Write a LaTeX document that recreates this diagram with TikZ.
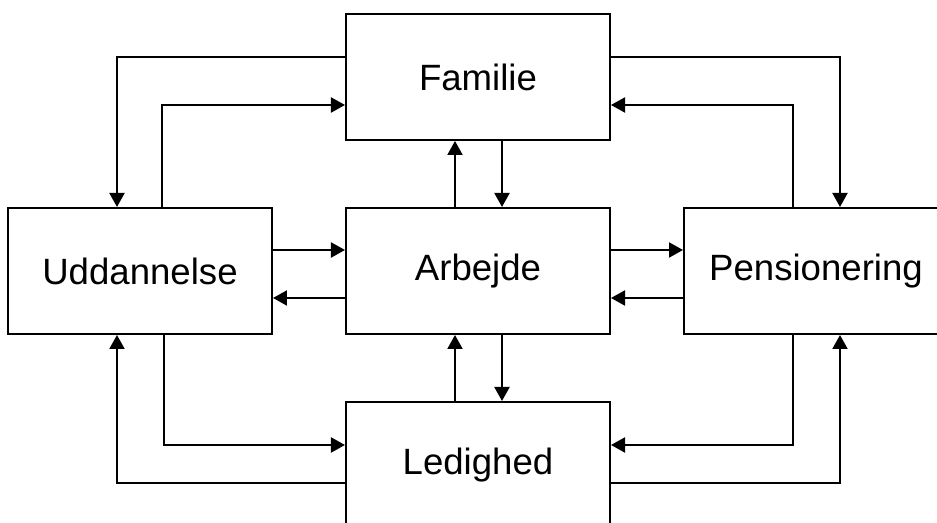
\documentclass[tikz,border=0pt]{standalone}
\usepackage{fontspec}
\setmainfont{Liberation Sans}
\usetikzlibrary{arrows.meta, positioning}

\begin{document}
\begin{tikzpicture}[
    node distance=33pt and 36pt,
    >={Triangle[length=7pt, width=7.5pt]},
    box/.style={draw, line width=1pt, minimum width=132pt, minimum height=63pt,
                font=\fontsize{18.3}{22}\selectfont, align=center},
    arr/.style={->, line width=1pt},
]
\useasboundingbox (-239pt,-126pt) rectangle (229.5pt,135.5pt);

% States
\node[box] (arb) {Arbejde};
\node[box, above=of arb] (fam) {Familie};
\node[box, below=of arb] (led) {Ledighed};
\node[box, left=of arb] (udd) {Uddannelse};
\node[box, right=of arb] (pen) {Pensionering};

% Familie <-> Arbejde, Ledighed <-> Arbejde
\draw[arr] ([xshift=-11.5pt]arb.north) -- ([xshift=-11.5pt]fam.south);
\draw[arr] ([xshift=12pt]fam.south) -- ([xshift=12pt]arb.north);
\draw[arr] ([xshift=-11.5pt]led.north) -- ([xshift=-11.5pt]arb.south);
\draw[arr] ([xshift=12pt]arb.south) -- ([xshift=12pt]led.north);

% Uddannelse <-> Arbejde <-> Pensionering
\draw[arr] ([yshift=10.5pt]udd.east) -- ([yshift=10.5pt]arb.west);
\draw[arr] ([yshift=-13.5pt]arb.west) -- ([yshift=-13.5pt]udd.east);
\draw[arr] ([yshift=10.5pt]arb.east) -- ([yshift=10.5pt]pen.west);
\draw[arr] ([yshift=-13.5pt]pen.west) -- ([yshift=-13.5pt]arb.east);

% Familie loops
\draw[arr] ([yshift=10pt]fam.west) -| ([xshift=-11.5pt]udd.north);
\draw[arr] ([xshift=11pt]udd.north) |- ([yshift=-14pt]fam.west);
\draw[arr] ([yshift=10pt]fam.east) -| ([xshift=12pt]pen.north);
\draw[arr] ([xshift=-11.5pt]pen.north) |- ([yshift=-14pt]fam.east);

% Ledighed loops
\draw[arr] ([yshift=-9pt]led.west) -| ([xshift=-11.5pt]udd.south);
\draw[arr] ([xshift=12pt]udd.south) |- ([yshift=10pt]led.west);
\draw[arr] ([xshift=-11.5pt]pen.south) |- ([yshift=10pt]led.east);
\draw[arr] ([yshift=-9pt]led.east) -| ([xshift=12pt]pen.south);

\end{tikzpicture}
\end{document}
